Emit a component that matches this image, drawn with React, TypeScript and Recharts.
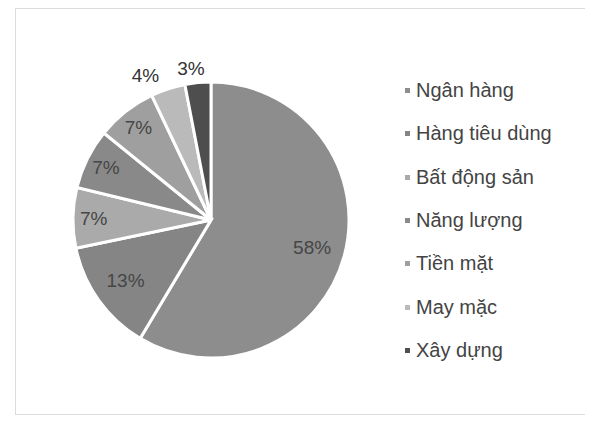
import { PieChart, Pie, Cell, Legend } from "recharts"

const sectors = ["Ngân hàng", "Hàng tiêu dùng", "Bất động sản", "Năng lượng", "Tiền mặt", "May mặc", "Xây dựng"]
const shares = [58, 13, 7, 7, 7, 4, 3]
const shades = ["#8d8d8d", "#858585", "#aaaaaa", "#898989", "#9f9f9f", "#bababa", "#4e4e4e"]

const data = sectors.map((name, i) => ({ name, value: shares[i] }))

const RAD = Math.PI / 180

function renderLabel(props: any) {
  const { cx, cy, midAngle, outerRadius, value } = props
  const cos = Math.cos(-midAngle * RAD)
  const sin = Math.sin(-midAngle * RAD)
  let x: number
  let y: number
  if (value <= 4) {
    // small slices: label outside the pie, pushed away sideways
    const r = outerRadius + 14
    x = cx + r * cos + cos * 58
    y = cy + r * sin
  } else {
    const r = outerRadius * (value < 10 ? 0.85 : 0.76)
    x = cx + r * cos
    y = cy + r * sin
  }
  return (
    <text
      x={x}
      y={y}
      fill={value <= 4 ? "#333" : "#464646"}
      fontSize={19}
      fontFamily="Liberation Sans, Arial, sans-serif"
      textAnchor="middle"
      dominantBaseline="central"
    >
      {value}%
    </text>
  )
}

function LegendList(props: any) {
  const payload = [...(props.payload || [])].sort(
    (a: any, b: any) => sectors.indexOf(a.value) - sectors.indexOf(b.value)
  )
  return (
    <div style={{ fontFamily: "Liberation Sans, Arial, sans-serif", fontSize: 20, color: "#444" }}>
      {payload.map((entry: any, i: number) => (
        <div key={i} style={{ height: 43.3, display: "flex", alignItems: "center", whiteSpace: "nowrap" }}>
          <span
            style={{ display: "inline-block", width: 5, height: 5, background: entry.color, marginRight: 6 }}
          />
          {entry.value}
        </div>
      ))}
    </div>
  )
}

export default function App() {
  return (
    <div style={{ position: "relative", width: 585, height: 413 }}>
      <div
        style={{
          position: "absolute",
          left: 7,
          top: 0,
          width: 574,
          height: 405,
          border: "1px solid #dcdcdc",
        }}
      />
      <PieChart width={585} height={413} style={{ position: "absolute", left: 0, top: 0 }}>
        <Pie
          data={data}
          dataKey="value"
          nameKey="name"
          cx={198}
          cy={207}
          outerRadius={138}
          startAngle={90}
          endAngle={-270}
          stroke="#fff"
          strokeWidth={3}
          label={renderLabel}
          labelLine={false}
          isAnimationActive={false}
        >
          {data.map((d, i) => (
            <Cell key={d.name} fill={shades[i]} />
          ))}
        </Pie>
        <Legend
          layout="vertical"
          itemSorter={null as any}
          content={<LegendList />}
          wrapperStyle={{ left: 397, top: 61, width: 180 }}
        />
      </PieChart>
    </div>
  )
}
